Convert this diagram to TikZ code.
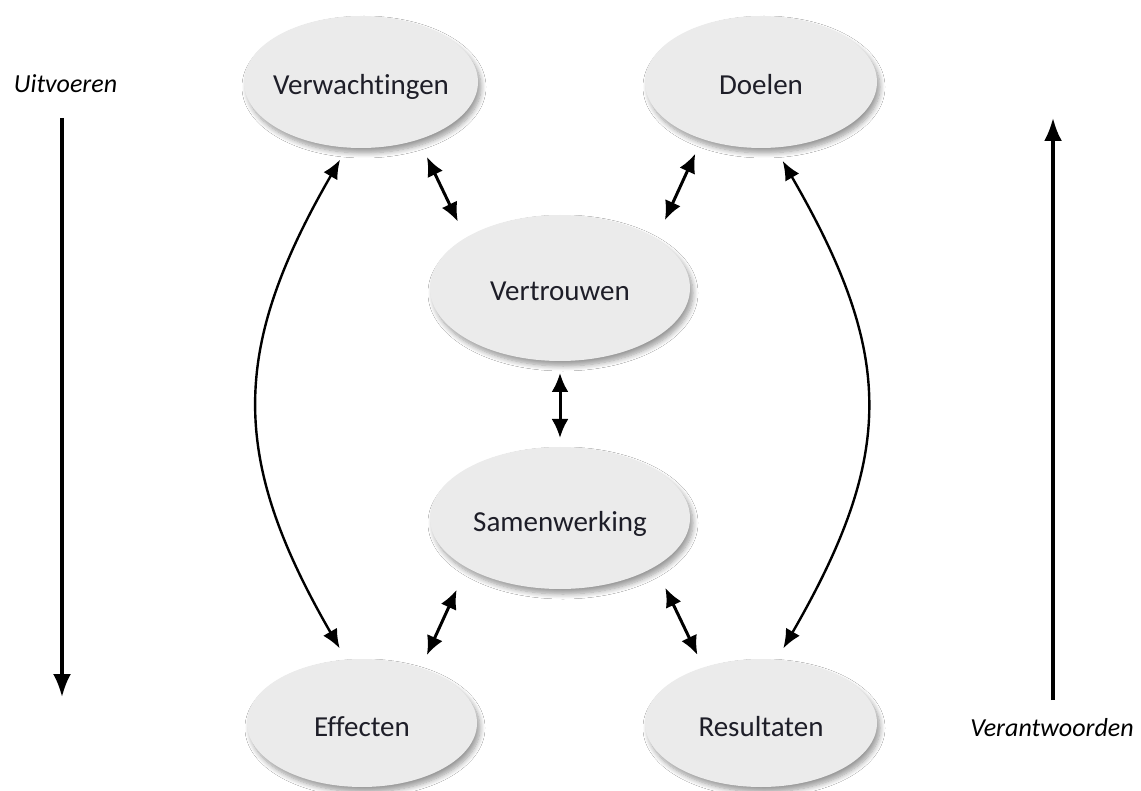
\documentclass[tikz,border=0pt]{standalone}
\usepackage{fontspec}
\setmainfont{Carlito}[Ligatures={NoCommon}]
\usetikzlibrary{arrows.meta,shapes.geometric,shadows.blur}
\definecolor{ellfill}{HTML}{EBEBEB}
\definecolor{txt}{HTML}{1E1E28}
\tikzset{
  blob/.style={ellipse, fill=ellfill, inner sep=0pt, outer sep=0pt, text=txt,
    font=\fontsize{29}{30}\selectfont, text height=26pt, text depth=0pt,
    blur shadow={shadow xshift=3pt, shadow yshift=-5pt, shadow blur steps=8,
      shadow blur radius=5pt, shadow opacity=40}},
  twoway/.style={line width=3pt, {Latex[length=19pt,width=17pt]}-{Latex[length=19pt,width=17pt]}},
  curvy/.style={line width=2.4pt, {Latex[length=19pt,width=16pt]}-{Latex[length=19pt,width=16pt]}},
  oneway/.style={line width=3.2pt, -{Latex[length=23pt,width=18pt]}},
  side/.style={font=\fontsize{26}{27}\selectfont\itshape, text=black, inner sep=0pt, anchor=base},
}
\begin{document}
\begin{tikzpicture}[x=1pt,y=-1pt]
\useasboundingbox (0,0) rectangle (1141,791);
\fill[white] (0,0) rectangle (1141,791);

\node[blob, minimum width=234pt, minimum height=132pt] (verw) at (361,82) {\makebox[0pt]{Verwachtingen}};
\node[blob, minimum width=232pt, minimum height=132pt] (doel) at (761,82) {\makebox[0pt]{Doelen}};
\node[blob, minimum width=260pt, minimum height=146pt] (vert) at (560,288) {\makebox[0pt]{Vertrouwen}};
\node[blob, minimum width=260pt, minimum height=142pt] (samen) at (560,518) {\makebox[0pt]{Samenwerking}};
\node[blob, minimum width=230pt, minimum height=128pt] (eff) at (362,723) {\makebox[0pt]{Effecten}};
\node[blob, minimum width=232pt, minimum height=128pt] (res) at (761,723) {\makebox[0pt]{Resultaten}};

% short double arrows
\draw[twoway, shorten <=19.5pt, shorten >=18pt] (verw.-45) -- (vert.152.5);
\draw[twoway, shorten <=16.4pt, shorten >=20.7pt] (doel.224.6) -- (vert.27.1);
\draw[twoway, shorten <=12pt, shorten >=9pt] (vert.-90) -- (samen.90);
\draw[twoway, shorten <=24.5pt, shorten >=14.3pt] (samen.208.2) -- (eff.43);
\draw[twoway, shorten <=23.7pt, shorten >=14pt] (samen.-27.1) -- (res.136.3);

% long curved double arrows
\draw[curvy, shorten <=14pt, shorten >=13pt] (verw.258) to[out=240, in=120, looseness=1.17] (eff.104);
\draw[curvy, shorten <=15.5pt, shorten >=13pt] (doel.282) to[out=-60, in=60, looseness=1.19] (res.76);

% side arrows
\coordinate (ua) at (62,118);
\coordinate (ub) at (62,697);
\coordinate (va) at (1053,700);
\coordinate (vb) at (1053,118);
\draw[oneway] (ua) -- (ub);
\draw[oneway] (va) -- (vb);

\node[side] (lu) at (65.5,93) {Uitvoeren};
\node[side] (lv) at (1052,736) {Verantwoorden};
\end{tikzpicture}
\end{document}
